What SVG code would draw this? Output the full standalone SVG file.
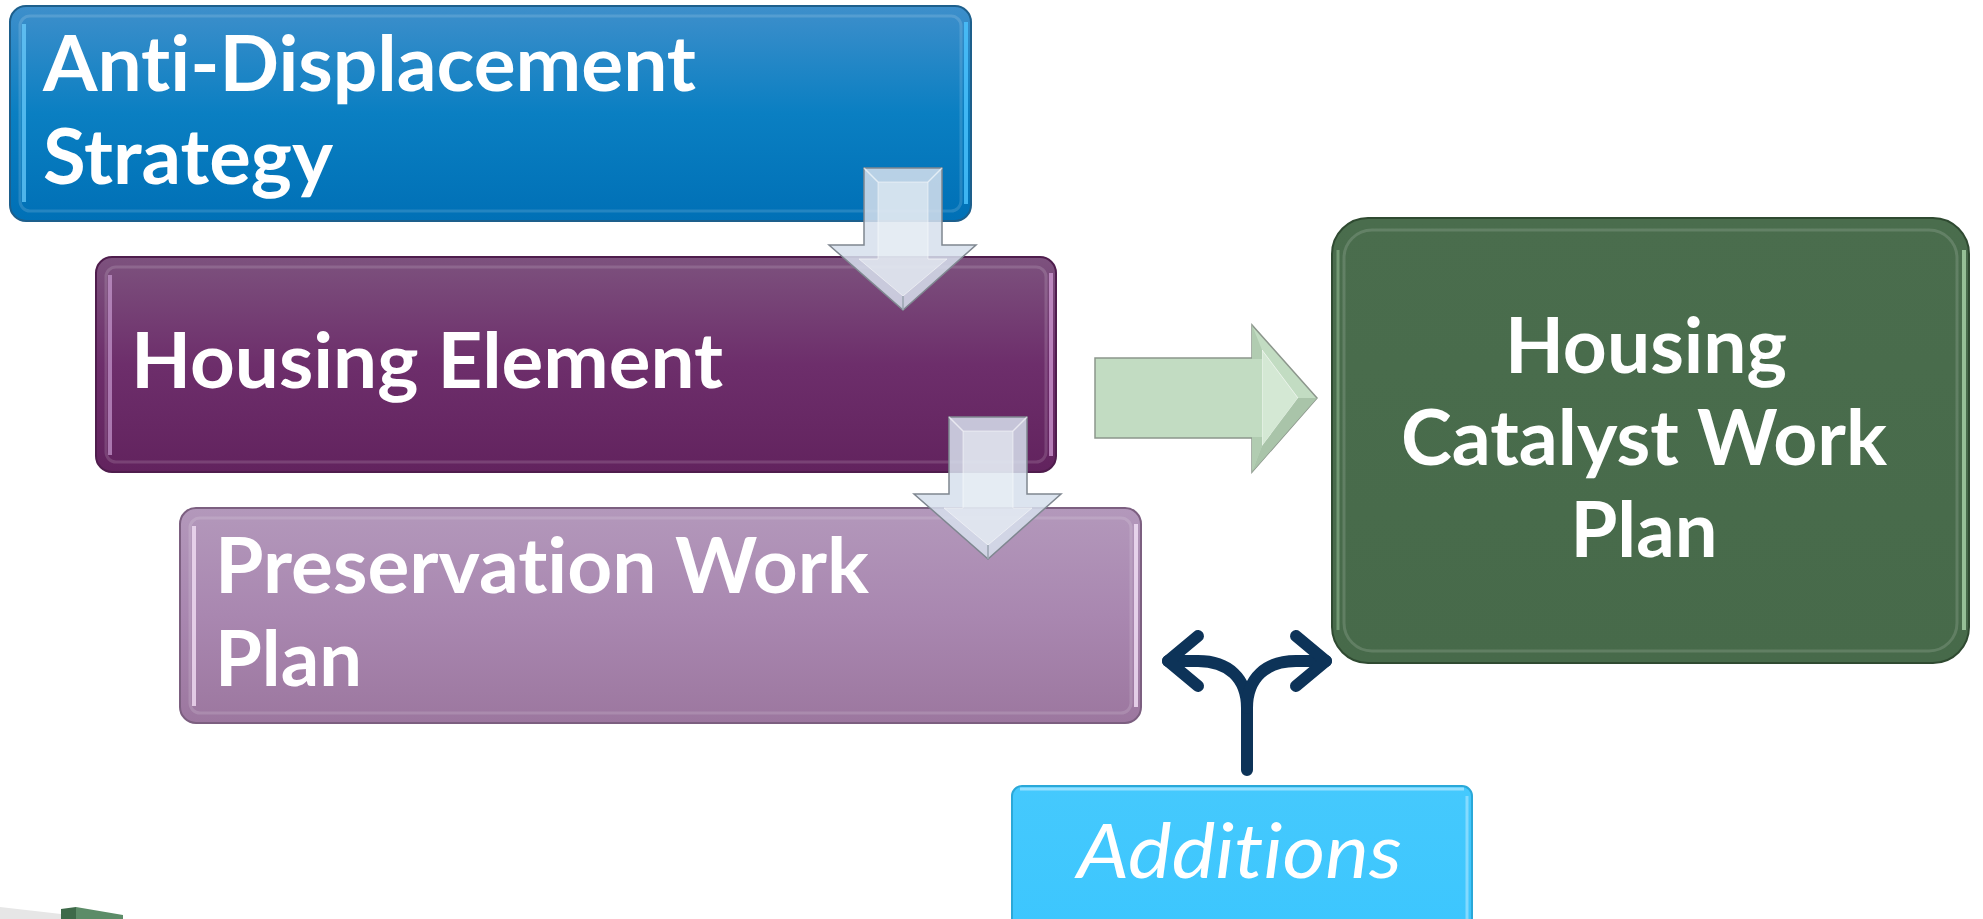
<svg xmlns="http://www.w3.org/2000/svg" width="1983" height="919" viewBox="0 0 1983 919">
<defs>
<style>
.lbl{font-family:Lato,"Open Sans","Liberation Sans",sans-serif;font-weight:bold;font-size:76px;fill:#ffffff;font-variant-ligatures:none;font-feature-settings:"liga" 0,"clig" 0}
.add{font-family:Lato,"Open Sans","Liberation Sans",sans-serif;font-style:italic;font-size:75px;fill:#ffffff;font-variant-ligatures:none;font-feature-settings:"liga" 0,"clig" 0}
.hl{fill:none;stroke:#ffffff;stroke-opacity:0.14;stroke-width:3}
.down{fill:#d6e0ec;fill-opacity:0.86;stroke:#7f8790;stroke-width:1.5}
.downin{fill:#eef3f8;fill-opacity:0.5;stroke:#ffffff;stroke-opacity:0.5;stroke-width:1}
.bent{fill:none;stroke:#0d3358;stroke-width:12;stroke-linecap:round;stroke-linejoin:round}
</style>
<linearGradient id="gBlue" x1="0" y1="0" x2="0" y2="1">
<stop offset="0" stop-color="#3e8fcb"/><stop offset="0.5" stop-color="#0a7fc2"/><stop offset="1" stop-color="#0070b6"/>
</linearGradient>
<linearGradient id="gPurple" x1="0" y1="0" x2="0" y2="1">
<stop offset="0" stop-color="#7d527e"/><stop offset="0.5" stop-color="#6d2e6b"/><stop offset="1" stop-color="#62235e"/>
</linearGradient>
<linearGradient id="gLilac" x1="0" y1="0" x2="0" y2="1">
<stop offset="0" stop-color="#b398bb"/><stop offset="0.5" stop-color="#a987b0"/><stop offset="1" stop-color="#9c779f"/>
</linearGradient>
<linearGradient id="gGreen" x1="0" y1="0" x2="0" y2="1">
<stop offset="0" stop-color="#4a6d4d"/><stop offset="1" stop-color="#476a4a"/>
</linearGradient>
<linearGradient id="gCyan" x1="0" y1="0" x2="0" y2="1">
<stop offset="0" stop-color="#45c9fd"/><stop offset="1" stop-color="#3cc6fe"/>
</linearGradient>
</defs>

<g id="node-anti-displacement">
<rect x="10" y="6" width="961" height="215" rx="16" fill="url(#gBlue)" stroke="#1d5f8c" stroke-width="2"/>
<rect x="20" y="16" width="941" height="195" rx="10" class="hl"/>
<line x1="24" y1="24" x2="24" y2="202" stroke="#6fd0ff" stroke-width="4" stroke-opacity="0.7"/>
<line x1="966" y1="22" x2="966" y2="204" stroke="#4cc4ff" stroke-width="4" stroke-opacity="0.8"/>
<text class="lbl" x="43" y="91" textLength="653" lengthAdjust="spacingAndGlyphs">Anti-Displacement</text>
<text class="lbl" x="43" y="184" textLength="290" lengthAdjust="spacingAndGlyphs">Strategy</text>
</g>

<g id="node-housing-element">
<rect x="96" y="257" width="960" height="215" rx="16" fill="url(#gPurple)" stroke="#4f1d4d" stroke-width="2"/>
<rect x="106" y="267" width="940" height="195" rx="10" class="hl"/>
<line x1="110" y1="275" x2="110" y2="455" stroke="#c89ad0" stroke-width="4" stroke-opacity="0.7"/>
<line x1="1051" y1="273" x2="1051" y2="456" stroke="#d7a3dc" stroke-width="4" stroke-opacity="0.7"/>
<text class="lbl" x="131" y="388" textLength="592" lengthAdjust="spacingAndGlyphs">Housing Element</text>
</g>

<g id="node-preservation">
<rect x="180" y="508" width="961" height="215" rx="16" fill="url(#gLilac)" stroke="#7c5f80" stroke-width="2"/>
<rect x="190" y="518" width="941" height="195" rx="10" class="hl"/>
<line x1="194" y1="526" x2="194" y2="706" stroke="#f2dff5" stroke-width="4" stroke-opacity="0.8"/>
<line x1="1136" y1="524" x2="1136" y2="707" stroke="#f4e2f7" stroke-width="4" stroke-opacity="0.8"/>
<text class="lbl" x="215" y="593" textLength="654" lengthAdjust="spacingAndGlyphs">Preservation Work</text>
<text class="lbl" x="215" y="686" textLength="147" lengthAdjust="spacingAndGlyphs">Plan</text>
</g>

<g id="node-catalyst">
<rect x="1332" y="218" width="637" height="445" rx="36" fill="url(#gGreen)" stroke="#2f4a31" stroke-width="2"/>
<rect x="1344" y="230" width="613" height="421" rx="28" class="hl" stroke-opacity="0.1"/>
<line x1="1964" y1="250" x2="1964" y2="630" stroke="#a9d4a9" stroke-width="4" stroke-opacity="0.8"/>
<line x1="1338" y1="250" x2="1338" y2="630" stroke="#8fb88f" stroke-width="3" stroke-opacity="0.6"/>
<text class="lbl" x="1646" y="373" text-anchor="middle" textLength="282" lengthAdjust="spacingAndGlyphs">Housing</text>
<text class="lbl" x="1644" y="465" text-anchor="middle" textLength="486" lengthAdjust="spacingAndGlyphs">Catalyst Work</text>
<text class="lbl" x="1644" y="557" text-anchor="middle" textLength="147" lengthAdjust="spacingAndGlyphs">Plan</text>
</g>

<g id="node-additions">
<rect x="1012" y="786" width="460" height="150" rx="10" fill="url(#gCyan)" stroke="#2aa8d8" stroke-width="2"/>
<line x1="1020" y1="789" x2="1464" y2="789" stroke="#a9e6ff" stroke-width="3" stroke-opacity="0.8"/>
<line x1="1467" y1="796" x2="1467" y2="919" stroke="#9fe3ff" stroke-width="3" stroke-opacity="0.7"/>
<text class="add" x="1077" y="878" textLength="325" lengthAdjust="spacingAndGlyphs">Additions</text>
</g>

<g id="connectors">
<g id="arrow-down-1">
<path class="down" d="M864,168 H942 V245 H976 L903,310 L829,245 H864 Z"/>
<path class="downin" d="M878,182 H928 V259 H947 L903,296 L859,259 H878 Z"/>
<line x1="942" y1="168" x2="928" y2="182" stroke="#ffffff" stroke-opacity="0.6" stroke-width="1.5"/>
<line x1="864" y1="168" x2="878" y2="182" stroke="#ffffff" stroke-opacity="0.6" stroke-width="1.5"/>
<line x1="903" y1="310" x2="903" y2="296" stroke="#9aa4b0" stroke-width="1.5"/>
</g>
<g id="arrow-down-2">
<path class="down" d="M949,417 H1027 V494 H1061 L988,559 L914,494 H949 Z"/>
<path class="downin" d="M963,431 H1013 V508 H1032 L988,545 L944,508 H963 Z"/>
<line x1="1027" y1="417" x2="1013" y2="431" stroke="#ffffff" stroke-opacity="0.6" stroke-width="1.5"/>
<line x1="949" y1="417" x2="963" y2="431" stroke="#ffffff" stroke-opacity="0.6" stroke-width="1.5"/>
<line x1="988" y1="559" x2="988" y2="545" stroke="#9aa4b0" stroke-width="1.5"/>
</g>
<g id="arrow-right">
<path d="M1095,358 H1252 V325 L1317,398 L1252,472 V438 H1095 Z" fill="#c2dcc2" stroke="#8c968c" stroke-width="1.5"/>
<path d="M1262,350 L1298,398 L1262,446 Z" fill="#d4e8d4" stroke="#ffffff" stroke-opacity="0.6" stroke-width="1"/>
<path d="M1252,325 L1262,350 L1262,446 L1252,472 Z" fill="#b1ccb1"/>
<path d="M1262,446 L1298,398 L1317,398 L1252,472 Z" fill="#a9c4a9"/>
<rect x="1096" y="359" width="166" height="78" fill="#c2dcc2"/>
</g>
<g id="split-arrow">
<path class="bent" d="M1247,770 V708 C1247,678 1228,661 1198,661 H1168"/>
<path class="bent" d="M1247,708 C1247,678 1266,661 1296,661 H1326"/>
<path class="bent" d="M1198,636 L1168,661 L1198,686"/>
<path class="bent" d="M1296,636 L1326,661 L1296,686"/>
</g>
</g>

<g id="decor">
<path d="M0,907 L61,914 L61,919 L0,919 Z" fill="#e6e6e6"/>
<path d="M61,909 L76,907 L76,919 L61,919 Z" fill="#3e6a49"/>
<path d="M76,907 L123,915 L123,919 L76,919 Z" fill="#5c8c68"/>
</g>
</svg>
